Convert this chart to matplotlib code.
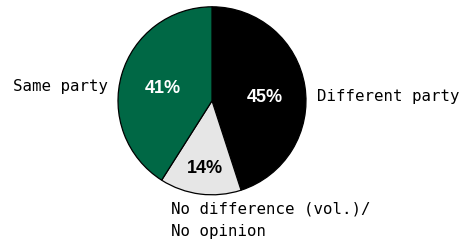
import matplotlib
matplotlib.use("Agg")
import matplotlib.pyplot as plt
import numpy as np

categories = ["Different party", "No difference (vol.)/\nNo opinion", "Same party"]
values = [45, 14, 41]
colors = ["#000000", "#e6e6e6", "#006845"]
pct_colors = ["white", "black", "white"]

fig = plt.figure(figsize=(4.6, 2.43), dpi=100)
ax = fig.add_axes([0, 0, 1, 1])

cx, cy, R = 212, 142.2, 94
wedges, _ = ax.pie(values, colors=colors, startangle=90, counterclock=False,
                   center=(cx, cy), radius=R,
                   wedgeprops=dict(edgecolor="black", linewidth=0.9))
ax.set_xlim(0, 460)
ax.set_ylim(0, 243)
ax.set_aspect("equal")
ax.axis("off")

# label offsets (fraction of radius) from pie centre
pct_off = [(0.557, 0.03), (-0.075, -0.717), (-0.527, 0.13)]
for v, c, (dx, dy) in zip(values, pct_colors, pct_off):
    ax.text(cx + dx * R, cy + dy * R, f"{v}%",
            ha="center", va="center", color=c, fontsize=13, fontweight="bold",
            family="Liberation Sans")

lab = dict(fontsize=11.3, family="DejaVu Sans Mono")
ax.text(317, 142, categories[0], ha="left", va="baseline", **lab)
ax.text(171, 41, categories[1], ha="left", va="top", linespacing=1.58, **lab)
ax.text(108, 152.3, categories[2], ha="right", va="baseline", **lab)

fig.savefig("out.png", dpi=100)
